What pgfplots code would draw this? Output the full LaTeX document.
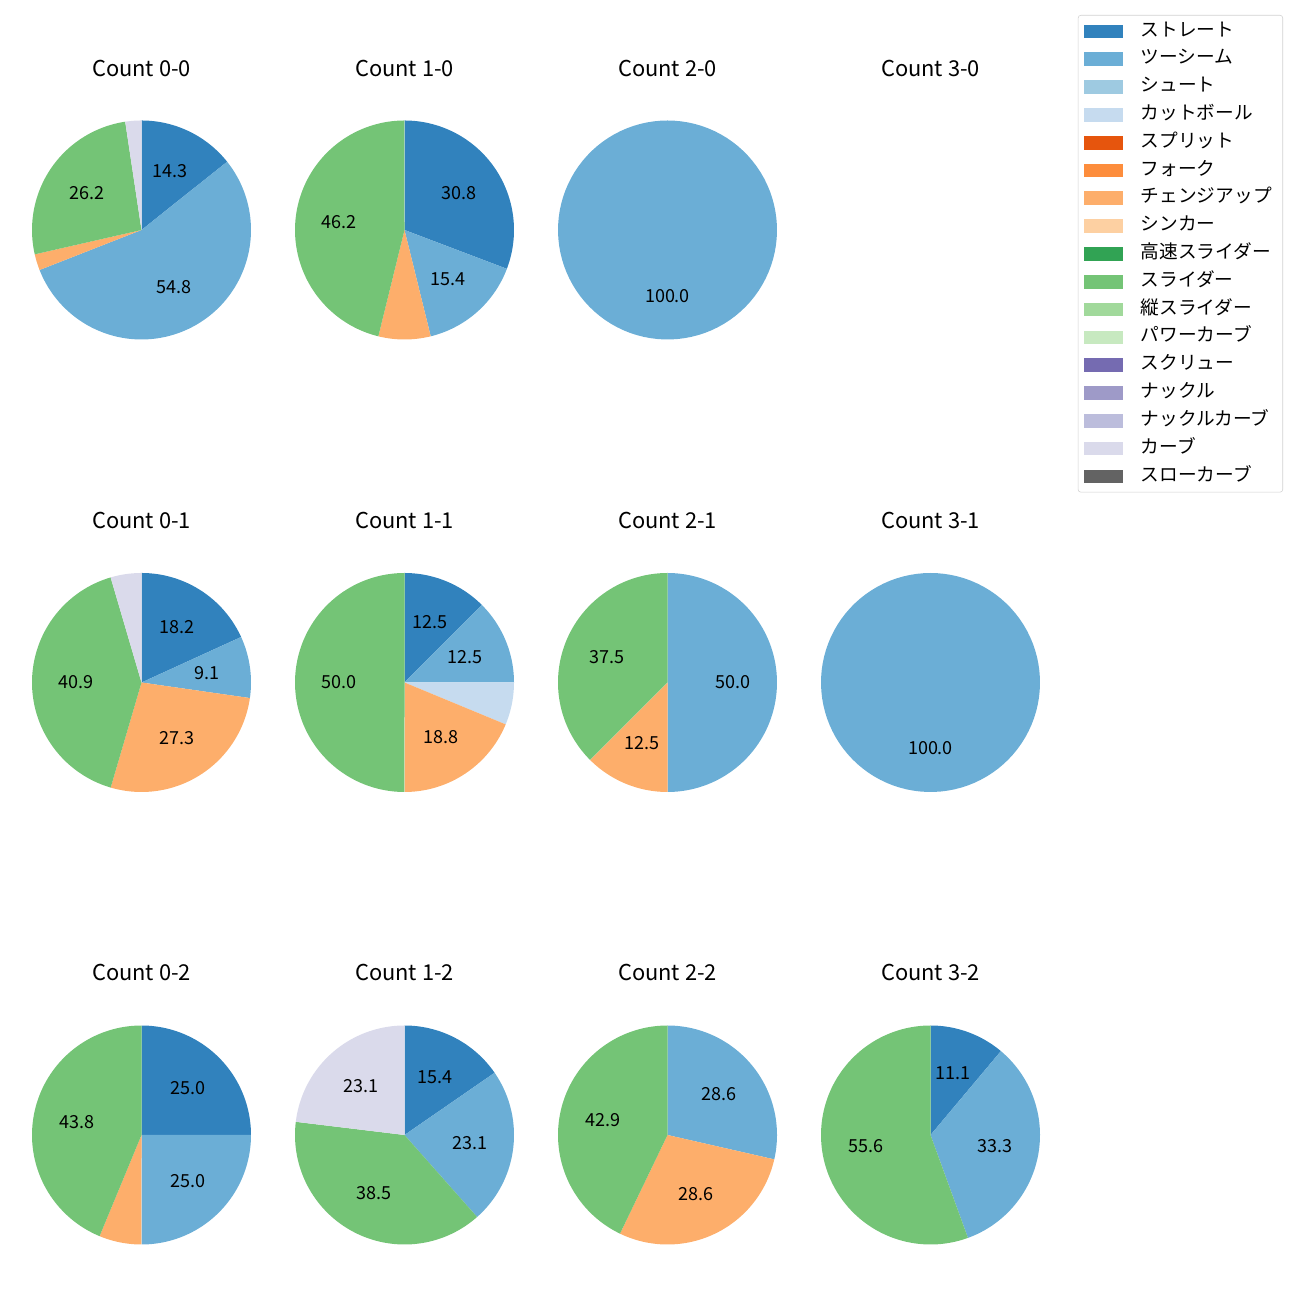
\documentclass[border=0pt]{standalone}
\usepackage{pgfplots}
\pgfplotsset{compat=1.18}
\usepackage{fontspec}
\setmainfont{Noto Sans CJK JP}

\definecolor{c0}{HTML}{3182BD}
\definecolor{c1}{HTML}{6BAED6}
\definecolor{c2}{HTML}{9ECAE1}
\definecolor{c3}{HTML}{C6DBEF}
\definecolor{c4}{HTML}{E6550D}
\definecolor{c5}{HTML}{FD8D3C}
\definecolor{c6}{HTML}{FDAE6B}
\definecolor{c7}{HTML}{FDD0A2}
\definecolor{c8}{HTML}{31A354}
\definecolor{c9}{HTML}{74C476}
\definecolor{c10}{HTML}{A1D99B}
\definecolor{c11}{HTML}{C7E9C0}
\definecolor{c12}{HTML}{756BB1}
\definecolor{c13}{HTML}{9E9AC8}
\definecolor{c14}{HTML}{BCBDDC}
\definecolor{c15}{HTML}{DADAEB}
\definecolor{c16}{HTML}{636363}

\newcommand\lblfont{\fontsize{13}{15}\selectfont}
\newcommand\ttlfont{\fontsize{15.8}{18}\selectfont}

% one wedge: #1 = share in percent, #2 = colour, #3 = printed label
\newcommand\slice[3]{%
  \pgfmathsetmacro\sa{90-3.6*\cum}%
  \pgfmathsetmacro\nc{\cum+#1}%
  \pgfmathsetmacro\sb{90-3.6*\nc}%
  \pgfmathsetmacro\sm{(\sa+\sb)/2}%
  \pgfmathsetmacro\lx{0.6*cos(\sm)}%
  \pgfmathsetmacro\ly{0.6*sin(\sm)}%
  \xdef\cum{\nc}%
  \edef\tmp{\noexpand\addplot[fill=#2, draw=none, domain=\sb:\sa, samples=100, variable=\noexpand\t]
     ({cos(\noexpand\t)},{sin(\noexpand\t)}) -- (axis cs:0,0) -- cycle;
   \noexpand\node[font=\noexpand\lblfont, inner sep=0pt] at (axis cs:\lx,\ly) {#3};}%
  \tmp}

\pgfplotsset{pie/.style={width=2.19in, height=2.19in, scale only axis,
  xmin=-1, xmax=1, ymin=-1, ymax=1, hide axis, anchor=center, clip=false}}

\begin{document}
\begin{tikzpicture}
\path (0in,0in) rectangle (13in,13in);

% titles
\node[font=\ttlfont, anchor=base] at (1.415in,12.233in) {Count 0-0};
\node[font=\ttlfont, anchor=base] at (4.045in,12.233in) {Count 1-0};
\node[font=\ttlfont, anchor=base] at (6.675in,12.233in) {Count 2-0};
\node[font=\ttlfont, anchor=base] at (9.305in,12.233in) {Count 3-0};
\node[font=\ttlfont, anchor=base] at (1.415in,7.713in) {Count 0-1};
\node[font=\ttlfont, anchor=base] at (4.045in,7.713in) {Count 1-1};
\node[font=\ttlfont, anchor=base] at (6.675in,7.713in) {Count 2-1};
\node[font=\ttlfont, anchor=base] at (9.305in,7.713in) {Count 3-1};
\node[font=\ttlfont, anchor=base] at (1.415in,3.193in) {Count 0-2};
\node[font=\ttlfont, anchor=base] at (4.045in,3.193in) {Count 1-2};
\node[font=\ttlfont, anchor=base] at (6.675in,3.193in) {Count 2-2};
\node[font=\ttlfont, anchor=base] at (9.305in,3.193in) {Count 3-2};

% Count 0-0
\begin{axis}[pie, at={(1.415in,10.70in)}]
\gdef\cum{0}
\slice{14.29}{c0}{14.3}
\slice{54.76}{c1}{54.8}
\slice{2.38}{c6}{}
\slice{26.19}{c9}{26.2}
\slice{2.38}{c15}{}
\end{axis}
% Count 1-0
\begin{axis}[pie, at={(4.045in,10.70in)}]
\gdef\cum{0}
\slice{30.77}{c0}{30.8}
\slice{15.38}{c1}{15.4}
\slice{7.69}{c6}{}
\slice{46.15}{c9}{46.2}
\end{axis}
% Count 2-0
\begin{axis}[pie, at={(6.675in,10.70in)}]
\gdef\cum{0}
\slice{100}{c1}{100.0}
\end{axis}
% Count 0-1
\begin{axis}[pie, at={(1.415in,6.175in)}]
\gdef\cum{0}
\slice{18.18}{c0}{18.2}
\slice{9.09}{c1}{9.1}
\slice{27.27}{c6}{27.3}
\slice{40.91}{c9}{40.9}
\slice{4.55}{c15}{}
\end{axis}
% Count 1-1
\begin{axis}[pie, at={(4.045in,6.175in)}]
\gdef\cum{0}
\slice{12.5}{c0}{12.5}
\slice{12.5}{c1}{12.5}
\slice{6.25}{c3}{}
\slice{18.75}{c6}{18.8}
\slice{50}{c9}{50.0}
\end{axis}
% Count 2-1
\begin{axis}[pie, at={(6.675in,6.175in)}]
\gdef\cum{0}
\slice{50}{c1}{50.0}
\slice{12.5}{c6}{12.5}
\slice{37.5}{c9}{37.5}
\end{axis}
% Count 3-1
\begin{axis}[pie, at={(9.305in,6.175in)}]
\gdef\cum{0}
\slice{100}{c1}{100.0}
\end{axis}
% Count 0-2
\begin{axis}[pie, at={(1.415in,1.65in)}]
\gdef\cum{0}
\slice{25}{c0}{25.0}
\slice{25}{c1}{25.0}
\slice{6.25}{c6}{}
\slice{43.75}{c9}{43.8}
\end{axis}
% Count 1-2
\begin{axis}[pie, at={(4.045in,1.65in)}]
\gdef\cum{0}
\slice{15.38}{c0}{15.4}
\slice{23.08}{c1}{23.1}
\slice{38.46}{c9}{38.5}
\slice{23.08}{c15}{23.1}
\end{axis}
% Count 2-2
\begin{axis}[pie, at={(6.675in,1.65in)}]
\gdef\cum{0}
\slice{28.57}{c1}{28.6}
\slice{28.57}{c6}{28.6}
\slice{42.86}{c9}{42.9}
\end{axis}
% Count 3-2
\begin{axis}[pie, at={(9.305in,1.65in)}]
\gdef\cum{0}
\slice{11.11}{c0}{11.1}
\slice{33.33}{c1}{33.3}
\slice{55.56}{c9}{55.6}
\end{axis}

% legend
\begin{axis}[at={(0in,0in)}, anchor=south west, width=13in, height=13in,
  scale only axis, xmin=0, xmax=1, ymin=0, ymax=1, hide axis,
  legend image code/.code={\fill[#1, sharp corners] (0in,-0.0635in) rectangle (0.387in,0.0635in);},
  legend cell align=left,
  legend style={at={(0.98692,0.98846)}, anchor=north east,
    draw=black!18, rounded corners=2pt, fill=white,
    font=\fontsize{13.5}{16}\selectfont,
    inner xsep=4pt, inner ysep=1.5pt, row sep=0pt, column sep=0pt,
    nodes={text height=11.5pt, text depth=4.6pt, inner ysep=2pt, inner xsep=4pt},
    /tikz/every odd column/.append style={column sep=9pt}}]
\addlegendimage{c0}\addlegendentry{ストレート}
\addlegendimage{c1}\addlegendentry{ツーシーム}
\addlegendimage{c2}\addlegendentry{シュート}
\addlegendimage{c3}\addlegendentry{カットボール}
\addlegendimage{c4}\addlegendentry{スプリット}
\addlegendimage{c5}\addlegendentry{フォーク}
\addlegendimage{c6}\addlegendentry{チェンジアップ}
\addlegendimage{c7}\addlegendentry{シンカー}
\addlegendimage{c8}\addlegendentry{高速スライダー}
\addlegendimage{c9}\addlegendentry{スライダー}
\addlegendimage{c10}\addlegendentry{縦スライダー}
\addlegendimage{c11}\addlegendentry{パワーカーブ}
\addlegendimage{c12}\addlegendentry{スクリュー}
\addlegendimage{c13}\addlegendentry{ナックル}
\addlegendimage{c14}\addlegendentry{ナックルカーブ}
\addlegendimage{c15}\addlegendentry{カーブ}
\addlegendimage{c16}\addlegendentry{スローカーブ}
\end{axis}
\end{tikzpicture}
\end{document}
